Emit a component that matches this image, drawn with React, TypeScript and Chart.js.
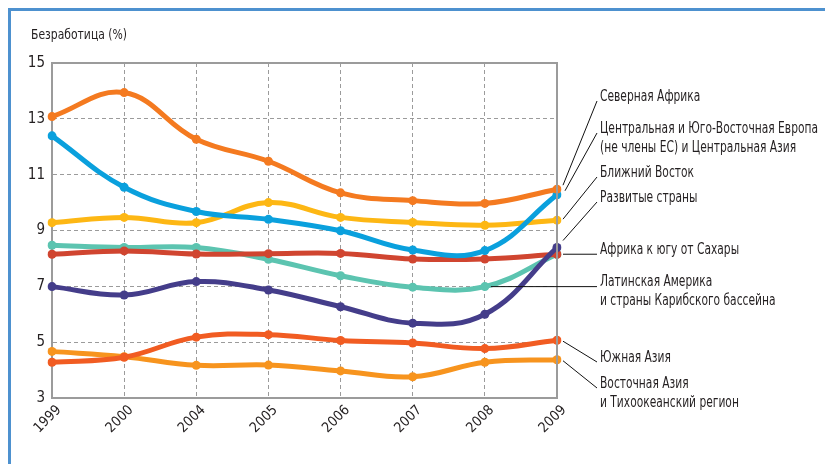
import React, { useEffect, useRef } from 'react';
import { Chart, registerables } from 'chart.js';

Chart.register(...registerables);

const years = ['1999', '2000', '2004', '2005', '2006', '2007', '2008', '2009'];
const northAfrica = [13.08, 13.94, 12.27, 11.48, 10.35, 10.07, 9.97, 10.48];
const centralEurope = [12.39, 10.55, 9.68, 9.4, 8.99, 8.3, 8.28, 10.28];
const middleEast = [9.28, 9.47, 9.28, 10.0, 9.47, 9.29, 9.19, 9.37];
const developed = [6.99, 6.69, 7.17, 6.87, 6.27, 5.68, 6.0, 8.39];
const subSaharan = [8.15, 8.27, 8.16, 8.17, 8.18, 7.98, 7.98, 8.15];
const latinAmerica = [8.47, 8.39, 8.39, 7.97, 7.38, 6.97, 6.99, 8.15];
const southAsia = [4.28, 4.46, 5.18, 5.27, 5.06, 4.97, 4.77, 5.07];
const eastAsia = [4.67, 4.48, 4.17, 4.18, 3.97, 3.76, 4.28, 4.37];

const yMin = 3;
const yMax = 15;
const yStep = 2;
const yTitle = 'Безработица (%)';

const FONT = '"DejaVu Sans Condensed", "Liberation Sans", sans-serif';
const TEXT = '#231f20';

type Series = {
  lines: string[];
  data: number[];
  color: string;
  anchor: number;
  labelY: number;
  dx: number;
  dy: number;
};

const series: Series[] = [
  { lines: ['Северная Африка'], data: northAfrica, color: '#f47a20', anchor: 7, labelY: 97, dx: 6, dy: -4 },
  { lines: ['Центральная и Юго-Восточная Европа', '(не члены ЕС) и Центральная Азия'], data: centralEurope, color: '#0aa0dd', anchor: 7, labelY: 129, dx: 8, dy: -4 },
  { lines: ['Ближний Восток'], data: middleEast, color: '#fdb714', anchor: 7, labelY: 173, dx: 6, dy: -1 },
  { lines: ['Развитые страны'], data: developed, color: '#443d8a', anchor: 7, labelY: 198, dx: 6, dy: -7 },
  { lines: ['Африка к югу от Сахары'], data: subSaharan, color: '#d04530', anchor: 7, labelY: 250, dx: 6, dy: 0 },
  { lines: ['Латинская Америка', 'и страны Карибского бассейна'], data: latinAmerica, color: '#5cc4b0', anchor: 6, labelY: 282, dx: 6, dy: 0 },
  { lines: ['Южная Азия'], data: southAsia, color: '#f15c22', anchor: 7, labelY: 358, dx: 6, dy: 1 },
  { lines: ['Восточная Азия', 'и Тихоокеанский регион'], data: eastAsia, color: '#f7941e', anchor: 7, labelY: 384, dx: 6, dy: 1 },
];

function squeezedText(ctx: any, text: string, x: number, y: number, k: number) {
  ctx.save();
  ctx.translate(x, y);
  ctx.scale(k, 1);
  ctx.fillText(text, 0, 0);
  ctx.restore();
}

const annotPlugin = {
  id: 'annot',
  afterDraw(chart: any) {
    const ctx = chart.ctx;
    const { left, right, top, bottom } = chart.chartArea;
    ctx.save();
    ctx.strokeStyle = '#9b9b9b';
    ctx.lineWidth = 2;
    ctx.beginPath();
    ctx.moveTo(left, top);
    ctx.lineTo(right, top);
    ctx.lineTo(right, bottom);
    ctx.stroke();

    ctx.fillStyle = TEXT;
    ctx.font = `15px ${FONT}`;
    ctx.textBaseline = 'middle';
    ctx.textAlign = 'left';
    const k = 218 / ctx.measureText(series[1].lines[0]).width;
    ctx.font = `14px ${FONT}`;
    const kt = 96 / ctx.measureText(yTitle).width;
    squeezedText(ctx, yTitle, 31, 35, kt);

    ctx.font = `15px ${FONT}`;
    const xs = chart.scales.x;
    const ys = chart.scales.y;
    const labelX = right + 43;
    series.forEach((s) => {
      const px = xs.getPixelForValue(s.anchor) + s.dx;
      const py = ys.getPixelForValue(s.data[s.anchor]) + s.dy;
      const ey = s.labelY + 4;
      ctx.strokeStyle = '#111';
      ctx.lineWidth = 1;
      ctx.beginPath();
      ctx.moveTo(px, py);
      ctx.lineTo(labelX - 3, s.dy === 0 ? py : ey);
      ctx.stroke();
      ctx.fillStyle = TEXT;
      s.lines.forEach((ln, i) => {
        squeezedText(ctx, ln, labelX, s.labelY + i * 19, k);
      });
    });
    ctx.restore();
  },
};

export default function App() {
  const ref = useRef<HTMLCanvasElement>(null);
  useEffect(() => {
    if (!ref.current) return;
    const chart = new Chart(ref.current, {
      type: 'line',
      data: {
        labels: years,
        datasets: series.map((s) => ({
          label: s.lines.join(' '),
          data: s.data,
          borderColor: s.color,
          backgroundColor: s.color,
          pointBackgroundColor: s.color,
          pointBorderColor: s.color,
          borderWidth: 5,
          pointRadius: 4.5,
          pointBorderWidth: 0,
          tension: 0.4,
          fill: false,
        })),
      },
      options: {
        animation: false,
        responsive: false,
        maintainAspectRatio: false,
        layout: { padding: { left: 10, right: 268, top: 63, bottom: 10 } },
        plugins: { legend: { display: false }, tooltip: { enabled: false }, title: { display: false } },
        scales: {
          x: {
            offset: false,
            grid: { color: '#9b9b9b', lineWidth: 1, drawTicks: false },
            border: { display: true, color: '#9b9b9b', width: 2, dash: [4, 3] },
            ticks: { color: TEXT, font: { family: FONT, size: 14 }, minRotation: 45, maxRotation: 45, padding: 4, labelOffset: 7 },
            afterFit: (axis: any) => { axis.height = 56; },
          },
          y: {
            min: yMin,
            max: yMax,
            grid: { color: '#9b9b9b', lineWidth: 1, drawTicks: false },
            border: { display: true, color: '#9b9b9b', width: 2, dash: [4, 3] },
            ticks: { stepSize: yStep, color: TEXT, font: { family: FONT, size: 15 }, padding: 7 },
            afterFit: (axis: any) => { axis.width = 42; },
          },
        },
      },
      plugins: [annotPlugin],
    });
    return () => chart.destroy();
  }, []);
  return (
    <div style={{ position: 'fixed', left: 0, top: 0, width: 825, height: 464, background: '#fff' }}>
      <div style={{ position: 'absolute', left: 8, top: 8, right: 0, bottom: 0, borderTop: '3px solid #4d91cf', borderLeft: '3px solid #4d91cf' }} />
      <canvas ref={ref} width={825} height={464} style={{ position: 'absolute', left: 0, top: 0 }} />
    </div>
  );
}
